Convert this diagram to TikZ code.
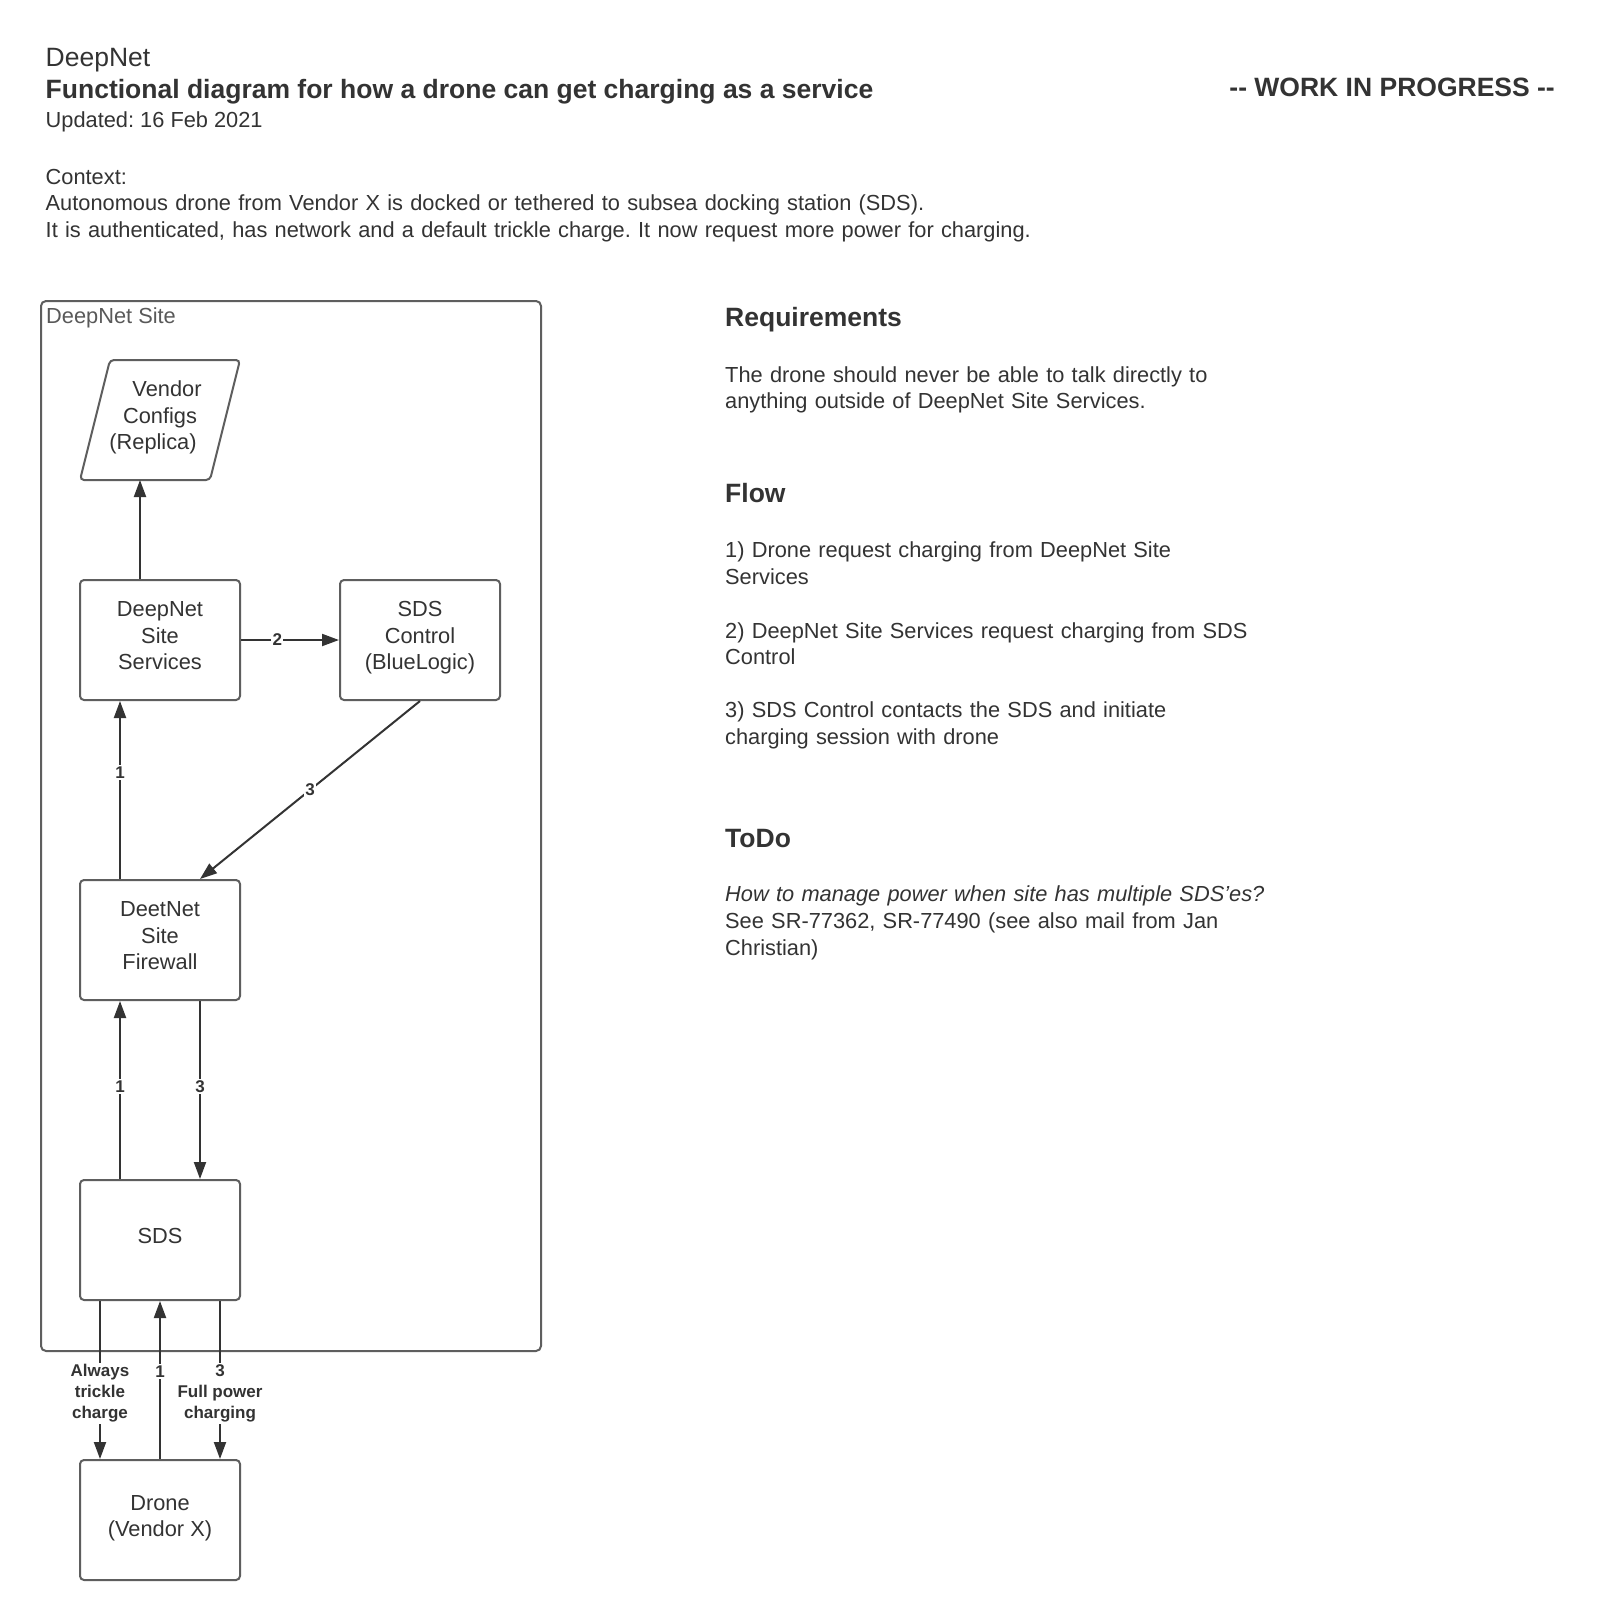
\documentclass[tikz,border=0pt]{standalone}
\usepackage{fontspec}
\setmainfont{Liberation Sans}
\usetikzlibrary{arrows.meta}
\frenchspacing

\definecolor{ink}{HTML}{333333}
\definecolor{edgegray}{HTML}{5E5E5E}
\definecolor{sitegray}{HTML}{595959}

\newcommand\fsbody{\fontsize{21.8}{26.8}\selectfont}
\newcommand\fsboxed{\fontsize{21.8}{26.3}\selectfont}
\newcommand\fshead{\fontsize{26.5}{32}\selectfont\bfseries}
\newcommand\fslabel{\fontsize{17}{21}\selectfont\bfseries}
% centred block text, drawn slightly above the geometric middle of its box
\newcommand\boxtext[1]{\raisebox{2pt}[\height][\depth]{\begin{tabular}{@{}c@{}}#1\end{tabular}}}

\begin{document}
\begin{tikzpicture}[x=1pt,y=-1pt,
  box/.style={draw=edgegray, line width=2pt, rounded corners=4pt,
    minimum width=160pt, minimum height=120pt, inner sep=0pt,
    font=\fsboxed, text=ink},
  arr/.style={draw=ink, line width=2pt, -{Triangle[length=17pt,width=12pt]}},
  lbl/.style={fill=white, font=\fslabel, text=ink, inner sep=1.5pt, align=center},
  plain/.style={anchor=base west, inner sep=0pt, text=ink, font=\fsbody},
  heading/.style={anchor=base west, inner sep=0pt, text=ink, font=\fshead},
  para/.style={anchor=base west, inner sep=0pt, text=ink, font=\fsbody,
    text width=620pt, align=left}
]
\fill[white] (0,0) rectangle (1600,1620);
\useasboundingbox (0,0) rectangle (1600,1620);

% ---- header ----
\node[plain, font=\fontsize{26.5}{32}\selectfont] (org) at (45.5,66.5) {DeepNet};
\node[heading] (title) at (45.5,98.5) {Functional diagram for how a drone can get charging as a service};
\node[plain] (updated) at (45.5,127) {Updated: 16 Feb 2021};
\node[para, text width=1200pt] (context) at (45.5,184) {Context:\\Autonomous drone from Vendor X is docked or tethered to subsea docking station (SDS).\\It is authenticated, has network and a default trickle charge. It now request more power for charging.};
\node[heading, anchor=base east] (wip) at (1555,96) {-{}- WORK IN PROGRESS -{}-};

% ---- site container ----
\node[draw=edgegray, line width=2pt, rounded corners=5pt, minimum width=500pt,
      minimum height=1050pt, anchor=north west, inner sep=0pt] (site) at (40,300) {};
\node[plain, text=sitegray] (sitelabel) at (46,323) {DeepNet Site};

% ---- vendor configs (parallelogram) ----
\node[inner sep=0pt, outer sep=0pt, minimum height=120pt,
      font=\fsboxed, text=ink] (vendor) at (160,420)
      {\boxtext{\hspace*{14pt}Vendor\\Configs\\(Replica)\hspace*{14pt}}};
\draw[draw=edgegray, line width=2pt, rounded corners=4pt]
  ([xshift=-80pt]vendor.south) -- ([xshift=-50pt]vendor.north) --
  ([xshift=80pt]vendor.north) -- ([xshift=50pt]vendor.south) -- cycle;

% ---- functional blocks ----
\node[box] (svc) at (160,640) {\boxtext{DeepNet\\Site\\Services}};
\node[box] (ctl) at (420,640) {\boxtext{SDS\\Control\\(BlueLogic)}};
\node[box] (fw) at (160,940) {\boxtext{DeetNet\\Site\\Firewall}};
\node[box] (sds) at (160,1240) {\boxtext{SDS}};
\node[box] (drone) at (160,1520) {\boxtext{Drone\\(Vendor X)}};

% ---- connectors ----
\draw[arr] ([xshift=-20pt]svc.north) -- ([xshift=-20pt]vendor.south);
\draw[arr] (svc.east) -- node[lbl, pos=0.37] {2} (ctl.west);
\draw[arr] (ctl.south) -- node[lbl] {3} ([xshift=40pt]fw.north);
\draw[arr] ([xshift=-40pt]fw.north) -- node[lbl, pos=0.6] {1} ([xshift=-40pt]svc.south);
\draw[arr] ([xshift=-40pt]sds.north) -- node[lbl, pos=0.52] {1} ([xshift=-40pt]fw.south);
\draw[arr] ([xshift=40pt]fw.south) -- node[lbl, pos=0.48] {3} ([xshift=40pt]sds.north);
\draw[arr] ([xshift=-60pt]sds.south) -- node[lbl, pos=0.585] {Always\\trickle\\charge} ([xshift=-60pt]drone.north);
\draw[arr] (drone.north) -- node[lbl, pos=0.555] {1} (sds.south);
\draw[arr] ([xshift=60pt]sds.south) -- node[lbl, pos=0.585] {3\\Full power\\charging} ([xshift=60pt]drone.north);

% ---- notes ----
\node[heading] (reqhead) at (725,326.5) {Requirements};
\node[para] (reqtext) at (725,382) {The drone should never be able to talk directly to\\anything outside of DeepNet Site Services.};
\node[heading] (flowhead) at (725,502) {Flow};
\node[para] (flow1) at (725,557.5) {1) Drone request charging from DeepNet Site\\Services};
\node[para] (flow2) at (725,638) {2) DeepNet Site Services request charging from SDS\\Control};
\node[para] (flow3) at (725,717.6) {3) SDS Control contacts the SDS and initiate\\charging session with drone};
\node[heading] (todohead) at (725,847) {ToDo};
\node[para] (todotext) at (725,901.5) {\itshape How to manage power when site has multiple SDS’es?\upshape\\See SR-77362, SR-77490 (see also mail from Jan\\Christian)};
\end{tikzpicture}
\end{document}
